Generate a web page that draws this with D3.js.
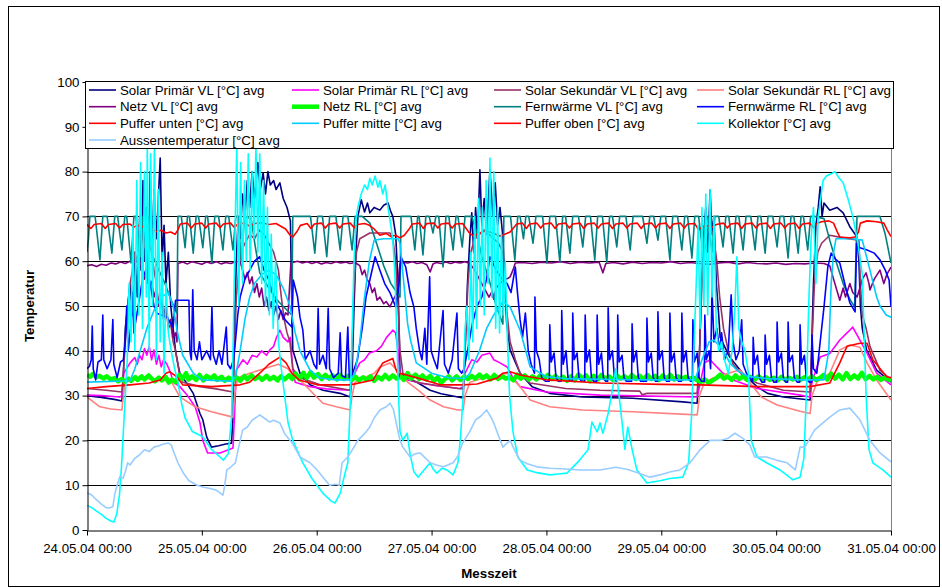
<!DOCTYPE html>
<html>
<head>
<meta charset="utf-8">
<script src="https://cdn.jsdelivr.net/npm/d3@7"></script>
<style>
  body { margin: 0; background: #fff; }
  text { font-family: "Liberation Sans", Arial, sans-serif; }
</style>
</head>
<body>
<script>
// hours since 24.05.04 00:00 -> value [°C]
const solarPrimaerVL = [[0,30],[3,29.6],[6,29.1],[7.3,28.8],[7.6,35],[8,45],[8.5,50],[9,55],[9.5,48],[10,62],[10.5,52],[11,70],[11.3,58],[11.7,78],[12,60],[12.4,72],[12.8,55],[13.2,80],[13.6,62],[14,76],[14.5,65],[15.3,83],[15.7,60],[16.1,68],[16.5,55],[17,62],[17.5,50],[18,45],[18.5,40],[19,37],[19.4,35],[21,32.5],[22.2,30.5],[23.6,26],[24.2,24.6],[25,20.8],[26,18.5],[27.5,18.8],[29,19.2],[30.2,19.4],[30.5,25],[30.8,45],[31.2,60],[31.6,70],[32,65],[32.5,75],[33,70],[33.5,78],[34,72],[34.5,80],[35,74],[35.7,82],[36.2,76],[36.8,79.7],[37.3,75],[37.8,80],[38.3,77],[39,78],[39.5,76],[40.3,77.5],[41,74],[41.8,72],[42.5,69],[42.8,50],[43,40.2],[44.5,35],[46.6,32.4],[49.3,31.2],[52.9,30.5],[55,29.7],[55.4,35],[55.8,50],[56.2,62],[56.6,70],[57.3,73.7],[58,71],[58.6,73],[59.1,70.8],[60,72],[61.2,71.4],[62,72.5],[62.9,73],[63.5,71],[63.9,70],[64.5,66],[65,55],[65.4,35],[67,34],[69.2,32.8],[71.7,31.2],[74,30.4],[77.5,29.7],[78.6,29.5],[79,40],[79.5,55],[80,65],[80.4,70.8],[80.8,62],[81.2,72],[81.6,65],[82.1,80.4],[82.5,68],[83,74],[83.5,66],[84.2,80.4],[84.8,70],[85.3,77.5],[85.8,68],[86.3,72],[86.9,65.4],[87.3,55],[87.7,46],[88.4,40.2],[90.5,35],[93,32],[96.7,30.5],[103.5,29.7],[114,29.4],[124.5,28.6],[127.5,28.3],[128,40],[128.4,55],[128.8,65],[129.3,72],[129.7,62],[130.2,75.9],[130.6,66],[131,70],[131.5,55],[132,48],[132.3,43],[134.3,38.6],[137,35],[140,32],[142.2,30.5],[145.5,29.7],[151.1,29],[151.4,40],[151.8,55],[152.3,68],[152.8,72],[153.2,76.6],[153.6,70],[154,73],[155.2,71.4],[156.7,72],[158,70.8],[159.4,67.7],[160.9,65.4],[161.3,60],[161.6,50],[162,45],[162.9,40.2],[165,35.7],[168,33]];

const solarPrimaerRL = [[0,30.1],[3,30],[6.9,29.7],[7.3,30],[7.7,35],[9,37.3],[10,38.5],[10.5,37],[11,39],[11.5,38],[12,40.5],[12.5,39],[13,41],[13.5,38],[14,40.2],[14.5,37],[15,39],[15.5,36.4],[16,38],[16.7,37],[17.5,35],[18,33],[19.4,32],[21,30],[22.6,27.5],[23.6,24],[24.2,20],[25.2,17.2],[27.8,17.2],[30.5,18.3],[30.8,25],[31.2,35.7],[32.6,38],[33.5,37],[34.5,39],[35.5,38.6],[36.5,40],[37.5,39],[38.2,40.2],[39,41],[39.6,43],[40.3,44.6],[41,43],[42,42],[42.5,43],[43,36],[43.5,33],[44,32.8],[46.6,32],[50,31.5],[55,31.2],[55.5,34],[57,37.3],[58,38],[59,39.5],[60.5,40],[61.5,41],[62.6,43],[63.9,44.6],[64.5,44],[65,40],[65.4,34],[67,33.5],[69.6,32.8],[73,32.2],[77.9,31.6],[78.6,32],[79,35],[80.4,38],[81.5,37.5],[82.5,39],[84.2,39.5],[85,38],[86.3,37.3],[87.8,36.4],[89,34],[90.5,32],[96,30.8],[107.2,30.1],[127.5,29.7],[128.2,33],[129,37.3],[130.2,38],[131.6,36.4],[132.9,35],[135,33.5],[140,31.6],[149,30.1],[151.1,29.7],[151.5,33],[153.2,38.6],[155.2,39.4],[157.3,42.4],[159.4,44.6],[160,45.3],[161.5,42.4],[163,39.5],[165,35],[168,32.4]];

const solarSekundaerVL = [[0,31.6],[4,31.2],[7.3,30.8],[7.6,35],[8,42],[8.5,50],[9,55],[9.5,58],[10,62],[10.5,60],[11,64],[11.5,66],[12,63],[12.5,67],[13,64],[13.5,62],[14,58],[14.5,55],[15,50],[15.5,52],[16,47],[16.5,50],[17,45],[17.5,46],[18,42],[18.5,40],[19,37],[19.4,34],[20,33],[23.6,32],[27,31.5],[30.5,30.8],[30.8,40],[31.2,52],[31.7,58],[32.2,62],[33,64],[34,66],[35,65],[36,67],[37,66],[38,64],[39,62],[40,58],[40.6,52],[41.2,47],[41.8,44],[42.4,42],[43,36],[44.5,34],[48.7,32.4],[55,31.2],[55.4,40],[55.8,55],[56.3,62],[57,65],[59.1,66.3],[63.3,66.3],[63.9,65],[64.5,60],[65,50],[65.4,40],[66,35],[67.5,33.5],[69.6,32.8],[77.5,31.6],[78.6,31.5],[79,40],[79.6,55],[80.2,62],[81,65],[82,66],[83,67],[84,66],[85,65],[86,64],[86.9,62],[87.3,55],[87.8,48],[88.4,42],[89.5,38],[90.5,35],[92.6,32.8],[100,31.6],[107.2,31.2],[115.5,31],[116,30.2],[117,30.5],[127.5,30.5],[128,40],[128.5,55],[129,62],[129.5,66],[130.2,68],[131,65],[131.6,60],[132.2,52],[133,45],[134,40],[135,37],[137,34.5],[140,32.8],[145.5,31.2],[151.1,30.8],[151.5,42],[152,55],[152.7,62],[153.5,64],[155.2,65.8],[158,65.2],[161.3,64.7],[161.6,55],[162,48],[162.8,45],[163.6,41],[165.7,35.7],[168,33.5]];

const solarSekundaerRL = [[0,29.7],[2.7,27.5],[5,27],[7.3,26.8],[7.6,30],[8,33],[10,33.5],[12,34],[14,33.5],[16,33.5],[17.8,32.8],[19.4,29.7],[22.6,27.5],[26,26.4],[30.5,25.2],[30.8,30],[31.5,34],[34,35],[37,36],[40,37],[42,36],[43,34.5],[44.5,33.5],[46.6,31.2],[49.3,28.3],[52.1,27.5],[55,26.8],[55.4,30],[56,33],[58,34],[60,35],[61.2,36.4],[63.3,37.3],[64.5,36],[65.4,35],[67,33],[69.2,31.2],[71.7,29],[74.5,27.5],[77.5,26.8],[78.6,26.8],[79,30],[80,33],[83,34],[86,34.5],[87.8,35],[90.5,32],[92.6,29],[96.7,27.5],[103.5,26.8],[114,26.4],[127.5,25.7],[128,30],[129,33],[131,34],[134,35],[136.4,35.7],[140.9,29.7],[144.2,27.9],[149,26.5],[151.1,26],[151.5,30],[152.5,33],[155.2,35],[157.3,40.2],[159.4,41.3],[161.5,40.8],[163,37.3],[165,33.5],[168,29]];

const netzVL = [[0,59],[1,59.2],[2,58.8],[3,59.3],[4,59.1],[5,59.6],[6,59.4],[7,59.8],[8,59.5],[9,60],[10,59.7],[11,60.2],[11.5,58],[12,56],[12.5,57.5],[13,54],[13.5,55.5],[14,52],[14.5,54],[15,50],[15.5,52],[16,48],[16.5,50],[17,46],[17.5,47],[18,43],[18.5,44],[18.8,42],[19,59.5],[20,59.8],[21,59.4],[22,59.9],[23,59.6],[24,59.3],[25,59.8],[26,59.5],[27,59.9],[28,59.4],[29,59.7],[30,59.5],[31,59.8],[32,60],[32.5,58],[33,56],[33.5,57.5],[34,55],[34.5,56.5],[35,53],[35.5,55],[36,52],[36.5,54],[37,50],[37.5,52],[38,49],[38.5,51],[39,48],[39.5,50],[40,47],[40.5,49],[41,47],[41.5,48.5],[42,48],[42.6,59.6],[44,60],[45,59.6],[46,59.9],[47,59.5],[48,59.8],[49,59.4],[50,59.7],[51,59.5],[52,59.9],[53,59.6],[54,59.8],[55,59.5],[56,59.7],[57,59],[57.5,57],[58,58],[58.5,56],[59.1,55],[59.6,53],[60.1,54],[60.6,51.3],[61.2,52],[62,50.5],[62.5,51],[63.3,49.8],[63.8,51],[64.3,52],[64.8,53],[65.4,59.5],[66,59.8],[67,59.6],[68,59.9],[69,59.5],[70,59.7],[71,59.2],[71.7,57.6],[72.3,59.4],[73,59.7],[74,59.5],[75,59.8],[76,59.5],[77,59.8],[78,59.6],[79,59.9],[80,59.5],[81,58],[82,56],[83,54],[84,52],[84.5,53],[85,51.5],[85.5,54],[86.3,55],[87,55.8],[88,56.2],[88.4,56.5],[89,58],[89.5,59.6],[91,59.7],[93,59.5],[95,59.8],[97,59.6],[99,59.9],[101,59.5],[103,59.8],[105,59.6],[107,59.8],[107.8,57.4],[108.4,59.5],[110,59.7],[112,59.4],[114,59.8],[116,59.5],[118,59.7],[120,59.6],[122,59.9],[124,59.5],[126,59.7],[128,59.5],[130,59.3],[132,59.6],[134,59.8],[136,59.4],[138,59.7],[140,59.5],[142,59.4],[144,59.6],[146,59.3],[148,59.5],[150,59.4],[152,59.6],[154,59.5],[155.2,59],[156,56],[157.3,51.3],[158,54],[158.5,52],[159.4,55],[160,53],[160.9,52],[161.5,54],[162,56],[162.8,57.4],[163.4,55],[163.6,53.6],[164.5,56],[165.7,58],[166.5,55],[167.1,57],[168,58.7]];

const netzRL = [[0,34.6],[0.7,34.2],[1.2,34.8],[2,34.1],[2.6,34.4],[3.5,33.8],[4.1,34.3],[5,33.6],[5.8,33.9],[6.5,33.2],[7.3,33.7],[7.9,33.1],[8.6,33.8],[9.2,33.3],[10.1,34.1],[10.6,33.5],[11.4,34.3],[12,33.6],[12.9,34.5],[13.4,33.9],[14.2,33.2],[15,34],[15.6,33.4],[16.5,34.1],[17.1,32.9],[17.8,33.6],[18.5,33],[19.3,34.6],[19.9,33.7],[20.7,35],[21.2,33.6],[22,34.3],[22.8,33.5],[23.5,34.6],[24.3,33.4],[25,34.4],[25.9,33.8],[26.6,34.5],[27.2,33.5],[28.1,34.2],[28.8,33.3],[29.6,34],[30.4,33.4],[31.2,34.1],[32,33.3],[32.9,34.4],[33.5,33.6],[34.4,34.5],[35.1,33.7],[35.8,34.3],[36.6,33.5],[37.5,34.4],[38.2,33.6],[39,34.2],[39.8,33.4],[40.5,34.3],[41.3,33.6],[42.2,34.5],[42.9,33.7],[43.6,34.9],[44.4,33.6],[45.2,35.1],[45.9,33.9],[46.7,35.2],[47.4,34],[48.3,34.8],[49,33.7],[49.8,34.6],[50.6,33.8],[51.3,34.5],[52.2,33.6],[52.9,34.6],[53.7,33.7],[54.5,34.4],[55.3,33.5],[56.1,34.2],[56.8,33.4],[57.7,34.1],[58.4,33.5],[59.2,34.3],[60,33.3],[60.8,34.2],[61.6,33.6],[62.3,34.6],[63.1,33.7],[63.9,34.5],[64.7,33.8],[65.5,34.3],[66.2,33.5],[67,35],[67.7,33.8],[68.6,34.7],[69.4,33.7],[70.1,34.5],[70.9,33.6],[71.7,34.4],[72.5,33.3],[73.3,34.1],[74,32.8],[74.8,33.7],[75.6,34.3],[76.3,33.4],[77.2,34.3],[78,33.5],[78.8,34.2],[79.6,33.7],[80.4,34.4],[81.1,33.8],[82,34.7],[82.7,33.9],[83.5,34.5],[84.3,33.6],[85.1,34.6],[85.9,33.7],[86.7,34.4],[87.5,33.8],[88.3,34.1],[89.1,33.4],[89.9,34.7],[90.6,33.8],[91.5,34.5],[92.3,33.6],[93.1,34.3],[93.9,33.6],[94.7,34.5],[95.5,33.8],[96.3,34.6],[97.1,33.7],[97.9,34.4],[98.7,33.5],[99.5,34.2],[100.3,33.3],[101.1,34.3],[101.9,33.4],[102.7,34.7],[103.5,33.8],[104.3,34.5],[105.1,33.2],[105.9,34.4],[106.7,33.6],[107.5,34.6],[108.3,33.7],[109.1,34.3],[109.9,33.5],[110.7,34.5],[111.5,33.8],[112.3,34.3],[113.1,33.6],[113.9,34.6],[114.7,33.7],[115.5,34.4],[116.3,33.5],[117.1,34.6],[117.9,33.7],[118.7,34.4],[119.5,33.5],[120.3,34.5],[121.1,33.8],[121.9,34.6],[122.7,33.6],[123.5,34.3],[124.3,33.7],[125.1,34.2],[125.9,33.8],[126.7,34],[127.5,33.4],[128.3,33.1],[129.1,33.6],[129.9,32.8],[130.7,33.4],[131.5,33.9],[132.3,34.7],[133.1,33.8],[133.9,34.3],[134.7,33.5],[135.5,34.5],[136.3,33.7],[137.1,34.3],[137.9,33.5],[138.7,34.2],[139.5,33.6],[140.3,34.3],[141.1,33.6],[141.9,34.1],[142.7,33.5],[143.5,34],[144.3,33.4],[145.1,34.2],[145.9,33.5],[146.7,34],[147.5,33.6],[148.3,34.2],[149.1,33.5],[149.9,34.1],[150.7,33.6],[151.5,34.3],[152.3,33.5],[153.1,33.9],[153.9,34.6],[154.7,33.6],[155.5,34.9],[156.3,33.8],[157.1,34.7],[157.9,33.6],[158.7,35],[159.5,33.7],[160.3,34.5],[161.1,33.8],[161.9,35.1],[162.7,33.7],[163.5,34.4],[164.3,33.6],[165.1,34.2],[165.9,33.5],[166.7,34],[167.5,33.5],[168,33.7]];

const fernwaermeVL = [[0,62],[0.3,65],[0.6,70],[1.7,70],[2.7,60.3],[3.3,70],[4.2,70],[5.2,61.8],[5.8,70],[6.4,70],[7.3,62.5],[7.9,70],[8.3,70],[9.2,59.6],[9.8,70],[10.2,70],[11.1,61],[11.7,70],[12.8,70],[13.8,61],[15,58],[16.3,55],[17.5,51.5],[18.8,48.4],[19,70],[19.7,70],[20.5,63],[21,70],[21.4,70],[22.2,61.8],[22.8,70],[23.3,70],[24.2,63],[24.8,70],[25.2,70],[26.1,59.6],[26.7,70],[27.5,70],[28.4,62.5],[29,70],[29.6,70],[30.5,62.5],[31.1,70],[31.5,70],[32.3,60],[32.9,70],[34.3,69.5],[35.2,63],[36.1,57.4],[38,54],[40,51],[42.8,48],[43,70],[46.7,70],[47.6,61.8],[48.2,70],[49.2,70],[50.1,61],[50.7,70],[52,70],[52.9,62.5],[53.5,70],[54.5,70],[55.4,62.5],[56,70],[57.5,70],[59.1,68.5],[60.5,64],[62,59],[63.5,55],[65.4,52],[65.6,70],[67.7,70],[68.5,62.5],[69.1,70],[69.4,70],[70.2,61.4],[70.8,70],[71.5,70],[72.3,66.3],[72.9,70],[73.5,70],[74.4,58.7],[75,70],[75.6,70],[76.5,62.5],[77.1,70],[77.5,70],[78.4,63.2],[79,70],[80.4,70],[81.5,66],[82.5,61],[84,56],[85.5,50],[86.9,46],[87.1,70],[88.5,70],[89.4,60.3],[90,70],[90.5,70],[91.2,65],[91.7,70],[92.3,70],[93.2,64],[93.8,70],[95.2,70],[96.1,59.6],[96.7,70],[97.9,70],[98.8,59.8],[99.4,70],[100,70],[100.9,61.8],[101.5,70],[102.7,70],[103.6,63.2],[104.2,70],[105.2,70],[106.1,60.3],[106.7,70],[107.7,70],[108.6,59.8],[109.2,70],[109.8,70],[110.7,63.2],[111.3,70],[112.6,70],[113.5,62.5],[114.1,70],[116.1,70],[117,64],[117.6,70],[118.4,70],[119.3,64.7],[119.9,70],[120.9,70],[121.8,60.3],[122.4,70],[123.4,70],[124.3,62.5],[124.9,70],[125.5,70],[126.4,60.7],[127,70],[127.8,70],[128.7,61.8],[129.3,70],[129.7,70],[130.6,62],[131.2,70],[132,70],[132.9,63.2],[133.5,70],[134.1,70],[135,61.8],[135.6,70],[136.2,70],[137.1,62.5],[137.7,70],[138.7,70],[139.6,62.5],[140.2,70],[140.8,70],[141.7,61.8],[142.3,70],[143.3,70],[144.2,63.2],[144.8,70],[145.6,70],[146.5,60.7],[147.1,70],[147.7,70],[148.6,61.8],[149.2,70],[149.7,70],[150.6,62.5],[151.2,70],[152,70],[154,69.5],[155.2,64.7],[156.5,60],[158,55],[159.4,51.5],[160.4,49.8],[160.9,70],[165.7,70],[166.8,66],[168,59.6]];

const fernwaermeRL = [[0,36],[0.5,36.5],[0.9,38],[1.1,45.5],[1.3,36],[1.8,33.5],[2.3,37.5],[3,38],[3.3,48],[3.5,38],[4.2,36],[5,38],[5.4,47],[5.6,37],[6.3,34],[7,37.5],[7.6,38],[8,42],[8.3,50],[8.6,40],[9.2,46],[9.5,53],[9.8,44],[10.4,48],[11,52],[11.6,56],[12.5,58.7],[13.2,55],[14,50],[14.6,48.4],[15.5,48],[16.7,47.5],[18,45.3],[18.5,51.3],[21.3,51.3],[21.5,40],[21.8,38],[22.1,53.6],[22.4,40],[23,38],[23.5,42],[24,38],[25,40],[25.8,38],[26.1,49.8],[26.4,39],[27,37],[27.6,40],[28.2,37],[29.1,45.3],[29.4,37],[30,36],[30.6,38],[31,42],[31.5,48],[32,52],[33,56],[34,58],[35,60],[36.1,61],[37,58],[38,55.8],[39,52],[40,49.8],[41.4,46.9],[42.8,45.3],[43.1,55.8],[44,52],[44.5,47.5],[45.1,44.6],[45.6,38],[46.6,40],[47.4,37],[48,36],[48.3,49.5],[48.6,37],[49.3,39],[50,36],[50.4,49.5],[50.7,36],[51.5,34],[52.5,35],[52.9,44],[53.2,34.5],[54,34],[54.5,45.3],[54.8,34],[55.5,35],[56.5,38],[57.5,45],[58.3,52],[59.1,55.8],[60.2,61],[61.2,58],[62.2,55],[63.3,53],[64.5,49.8],[65.2,55],[65.6,61],[66.6,58.7],[67.5,53],[68.3,49.8],[68.8,45],[69.5,40],[70,38],[70.6,45],[71,37],[71.6,56.5],[71.9,40],[72.5,38],[73.2,36],[74.4,49],[74.7,37],[75.5,35],[76.3,38],[77.3,48.4],[77.6,36],[78.3,35],[78.8,36],[79.5,40],[80.5,46],[81.5,50],[82.5,52],[83.5,56],[84.2,61],[85.5,58],[86.9,55.8],[87.8,55],[88.6,53],[89.5,58.7],[89.9,53.6],[90.5,46.9],[91,43],[91.6,48.4],[92.2,40],[92.8,37],[93.5,35],[93.6,52],[93.9,40],[94.5,38],[95,34],[95.8,33.2],
  [96.6,33.2],[96.7,45.8],[97,37.5],[97.6,39.5],[98,34],[98.5,33.2],[99.1,33.2],[99.2,49],[99.5,37],[100.1,40],[100.5,34],[101,33.2],[101.4,33.2],[101.5,48.4],[101.8,38],[102.4,39.5],[102.8,34],[103.3,33.2],[104,33.2],[104.1,48],[104.4,37.5],[105,40.2],[105.4,34],[105.9,33.2],[106.5,33.2],[106.6,48],[106.9,37],[107.5,39.5],[107.9,34],[108.4,33.2],[108.8,33.2],[108.9,49.6],[109.2,38],[109.8,40],[110.2,34],[110.6,33.2],[110.8,33.2],[110.9,48],[111.2,37.5],[111.8,39],[112.2,34],[112.7,33.2],[113.8,33.2],[113.9,46],[114.2,37.5],[114.8,40],[115.2,34],[115.7,33.2],[116.9,33.2],[117,47.3],[117.3,37.5],[117.9,39.5],[118.3,34],[118.8,33.2],[119.2,33.2],[119.3,48.7],[119.6,38],[120.2,40],[120.6,34],[121.1,33.2],[121.7,33.2],[121.8,48.4],[122.1,37.5],[122.7,39.5],[123.1,34],[123.6,33.2],[124.2,33.2],[124.3,48.4],[124.6,37.5],[125.2,40],[125.6,34],[126.1,33.2],[126.5,33.2],[126.6,46.9],[126.9,37.5],[127.5,39.5],[127.9,34],[128.4,33.2],[129,33.2],[129.1,48],[129.4,38],[130,40],[130.3,36],
  [130.6,53.6],[131,42],[131.6,45],[132.2,40],[132.6,44],[133.2,38],[134,40],[134.6,52.5],[135,42],[135.6,38],[136.3,40],[136.8,46.9],[137.1,37],[137.8,35],[138.5,34],[139.1,33.2],[139.2,43],[139.5,37],[140.1,39],[140.5,34],[141,33],[141.6,33],[141.7,43.5],[142,37],[142.6,39],[143,34],[143.5,33],[144.1,33],[144.2,46.4],[144.5,37.5],[145.1,39.5],[145.5,34],[146,33],[146.4,33],[146.5,46.4],[146.8,37.5],[147.4,39],[147.8,34],[148.4,33],[148.9,33],[149,45.8],[149.3,37],[149.9,39],[150.3,34],[150.9,33],[151.4,33],[151.5,43.5],[151.8,36],[152.5,35],[153.2,42],[154,49.8],[154.8,58.7],[155.5,61.8],[156.4,60.5],[157.3,59.6],[158.5,54.3],[159.4,50.7],[160.5,48.7],[160.8,64],[161.5,63],[163,62.5],[164.5,61.8],[165.7,60.3],[166.8,58],[167.6,55.8],[168,49.8]];

const pufferUnten = [[0,31.6],[4,32],[9,32.4],[13,32.8],[15.3,33.5],[16.5,35],[17.3,35.3],[18.8,34.2],[20,32.4],[26,32],[32,32.4],[34,33],[36.1,35],[38,37],[40.3,38.6],[41.6,37.3],[42.8,35],[44.3,33.5],[48.1,32.4],[55,32.4],[59.8,33.5],[61.8,37.3],[63.9,38.3],[64.5,36],[65.2,34.2],[65.4,35],[69.2,33.9],[73.8,32.4],[78.6,32.4],[81.5,32.6],[85.7,33.9],[86.9,35],[88.4,35.3],[90.5,34.6],[96.2,33.5],[107.2,32.8],[120,32.5],[128.1,32.4],[140,32],[151.1,32],[155.2,32.8],[157.3,37.3],[158.8,41],[161.5,41.7],[163,41.7],[164.2,38],[167.1,34.2],[168,34]];

const pufferMitte = [[0,33],[6,33.2],[9,33.3],[10,36],[12.5,45],[14,49],[15.5,52],[17,53],[18,50],[18.8,44.6],[20,39],[22.2,35],[24,33.5],[30,33.2],[31,34],[32,40],[33,47],[34,52],[35,55],[36.5,57],[38,58],[39.5,57],[41,54],[42.4,50],[43.5,44],[44.5,40],[46.6,35.7],[48.5,34],[52,33.5],[55,33.5],[56,35],[57,42],[58,52],[59,60],[60,64.7],[62,65],[65,65],[65.4,64],[66.3,54],[67,46],[67.6,42.4],[68.8,37.3],[72,35],[75.5,34],[79,33.8],[80,35],[82,40],[83.5,45],[85,48],[86.9,51],[88.4,49.8],[90.5,44.6],[92.6,36.4],[96,34.2],[100,33.8],[110,33.6],[120,33.5],[127,33.5],[128.5,38],[130,42],[131,42.4],[133,40],[134.3,37.3],[136,35.5],[138,34.3],[142,33.8],[150,33.5],[154,33.5],[155,40],[155.5,55],[156,62],[156.5,65],[158,65],[160,65],[162,64.7],[163.6,58],[165,52],[165.7,50],[167,48],[168,47.5]];

const pufferOben = [[0,68.2],[0.8,67.3],[1.5,68.2],[3,68.4],[3.8,67.3],[4.5,68.2],[6,68.4],[6.8,67.4],[7.5,68.2],[9,68.3],[9.8,67.6],[10.5,68],[11.5,67.8],[12.5,67],[13.5,67.2],[14.5,66.6],[15.5,66.9],[16.5,66.3],[17.5,66.5],[18.4,66],[19,67],[19.5,68.3],[21,68.5],[21.8,67.4],[22.5,68.3],[24,68.5],[24.8,67.4],[25.5,68.3],[27,68.5],[27.8,67.5],[28.5,68.3],[30,68.5],[30.8,67.5],[31.5,68.3],[33,68.5],[34,67.8],[35,68.4],[36.5,68.6],[38,68.2],[39.5,68.4],[40.5,67.8],[41.5,67.2],[42.3,66],[43,65.4],[43.8,66.5],[44.6,68],[46,68.4],[46.8,67.3],[47.5,68.3],[49,68.5],[49.8,67.4],[50.5,68.3],[52,68.5],[52.8,67.4],[53.5,68.3],[55,68.5],[55.8,67.5],[56.5,68.2],[58,68.4],[59,68],[60,67.2],[61.2,65.8],[62.5,66.2],[63.5,65.5],[64.5,65.8],[65.4,65.2],[66.3,65.8],[67.2,67],[68,68.3],[69.5,68.5],[70.3,67.3],[71,68.4],[72.5,68.5],[73.3,67.4],[74,68.3],[75.5,68.5],[76.3,67.4],[77,68.3],[78.5,68.4],[79.3,67.2],[80,66.2],[80.8,65.6],[82,66.3],[83.5,66.8],[85,66.2],[86.3,65.6],[87.3,66],[88.4,66.5],[89.2,67.5],[89.8,68.3],[91,68.5],[91.8,67.3],[92.5,68.3],[94,68.5],[94.8,67.4],[95.5,68.3],[97,68.5],[97.8,67.3],[98.5,68.3],[100,68.5],[100.8,67.4],[101.5,68.3],[103,68.5],[103.8,67.3],[104.5,68.3],[106,68.5],[106.8,67.4],[107.5,68.3],[109,68.5],[109.8,67.3],[110.5,68.3],[112,68.5],[112.8,67.4],[113.5,68.3],[115,68.5],[115.8,67.3],[116.5,68.3],[118,68.5],[118.8,67.4],[119.5,68.3],[121,68.5],[121.8,67.3],[122.5,68.3],[124,68.5],[124.8,67.4],[125.5,68.3],[127,68.4],[127.8,67],[128.5,67.6],[129.5,68],[130.5,67.5],[131.5,68.2],[133,68.5],[133.8,67.4],[134.5,68.3],[136,68.5],[136.8,67.3],[137.5,68.3],[139,68.5],[139.8,67.4],[140.5,68.3],[142,68.5],[142.8,67.3],[143.5,68.3],[145,68.5],[145.8,67.4],[146.5,68.3],[148,68.5],[148.8,67.3],[149.5,68.3],[151,68.5],[151.8,67.5],[152.5,68.4],[153.5,68.8],[155,69],[156,68.5],[156.8,66.5],[157.3,65.4],[158.5,65.3],[159.4,65.2],[160.5,65.4],[161.2,66.5],[161.6,68.5],[163,69],[165,68.8],[166.5,68.5],[167.2,67],[168,65.5]];

const kollektor = [[0,5.5],[1,5],[2,4.2],[3,3.5],[4,2.6],[5,2],[5.6,1.8],[6.2,3.5],[6.8,8],[7.2,14],[7.6,22],[8,30],[8.4,38],[8.8,55],[9.2,42],[9.6,68],[10,40],[10.4,78],[10.8,48],[11.2,82],[11.6,45],[12,80],[12.4,52],[12.6,86],[13,40],[13.3,84],[13.7,50],[14.1,87],[14.5,38],[14.9,76],[15.3,42],[15.7,62],[16.1,35],[16.5,55],[17,44],[17.6,40],[18.3,36],[19,33],[19.8,28],[20.5,25],[22,22],[24.2,20.8],[26,18],[27.8,16.3],[28.5,15.6],[29.5,17],[30.2,25],[30.6,45],[31,70],[31.3,86],[31.7,50],[32.1,82],[32.5,55],[32.9,78],[33.3,60],[33.7,84],[34.1,58],[34.5,80],[34.9,65],[35.3,86],[35.7,62],[36.1,84],[36.5,55],[36.9,78],[37.3,50],[37.7,72],[38.1,48],[38.5,66],[38.9,45],[39.4,60],[40,42],[40.6,36],[41.3,30],[42,24],[43,20],[45.1,15],[47,11.5],[49.3,8.2],[51,6.5],[51.8,6],[52.9,8.2],[54,13],[54.5,15],[55,28],[55.4,44],[55.8,60],[56.3,70],[56.6,72],[57.3,75],[58,77],[58.6,76],[59.1,78.5],[59.6,77],[60.2,79],[60.8,76.5],[61.2,78],[61.8,75],[62.3,77],[62.9,72],[63.5,68],[63.9,64.7],[64.3,58],[64.7,45],[65.1,30],[65.4,22],[66,20],[66.9,21.6],[67.5,17],[68.3,13],[69.2,11.8],[70.5,13.5],[71.7,15],[72.4,13.5],[73.1,12.7],[74.2,13.8],[75.2,13.4],[76.5,12.3],[77.5,15],[78,20],[78.6,30],[79,45],[79.4,50],[79.8,38],[80.2,62],[80.6,42],[81,70],[81.4,45],[81.8,74],[82.2,50],[82.6,72],[83,48],[83.4,78],[83.8,55],[84.2,83],[84.6,52],[85,80],[85.4,45],[85.8,72],[86.2,44],[86.6,66],[87,48],[87.4,60],[87.8,44],[88.3,30],[89,22],[90,16.3],[92,13.4],[94,12.8],[96.7,12.3],[98.5,12.5],[100.3,12.7],[102.6,15.2],[104.7,17.9],[105.5,24.1],[106.6,21.9],[107.2,23.9],[107.8,21.6],[108.9,26],[109.9,32],[110.5,36],[111.4,28],[112.4,18],[113,23],[113.9,18],[114.9,13.4],[117,10.5],[119.7,11],[121.8,11.5],[124.5,11.8],[125.7,15],[126.3,25],[126.8,40],[127.3,55],[127.7,68],[128.1,45],[128.5,72],[128.9,50],[129.3,75],[129.7,48],[130.2,76],[130.6,52],[131,70],[131.5,45],[132,40],[132.6,42],[133.2,38],[134,35],[134.8,40],[135.4,50],[135.8,61],[136.2,45],[136.8,42],[137.5,40],[138.2,35],[138.8,20],[140,16.3],[142,15],[144.8,13.4],[147.5,11.2],[149,11.8],[149.8,16],[150.3,30],[150.8,50],[151.3,65],[151.8,72],[152.3,55],[152.8,70],[153.3,74],[153.8,78],[154.5,79],[155.5,79.5],[156.3,80],[157.2,78.5],[158,77.5],[159,74],[160,70],[161,64.7],[162,57],[162.5,40],[162.8,30],[163.4,18],[164.2,15],[166.3,13.4],[168,11.8]];

const aussentemperatur = [[0,8.3],[1,7.8],[2,6.7],[3,5.8],[4,5],[4.6,4.9],[5.4,5.2],[5.8,8],[6.3,10],[6.9,12],[7.5,11.5],[8,13],[8.5,15],[9,14.5],[10,16],[11,16.8],[12,17.9],[13,17.5],[14,18.5],[15,18.8],[16,19.2],[17,19.4],[17.6,19],[18.2,17.2],[19,15],[20.2,12.6],[21.3,11],[22.2,10.5],[23,10],[24.2,9.6],[25.5,9.3],[27,8.9],[28.4,7.8],[28.8,10],[29.2,13.4],[30,14],[31,15],[31.6,18],[32.5,22.3],[33.5,23],[34.5,24.5],[36.1,25.7],[37,25],[38.2,24.1],[39,24.5],[40.3,23.9],[41.3,21.5],[42.9,19.4],[44.5,16.3],[46.6,15],[48,13.5],[49.3,11.8],[50.7,10],[52,10.2],[52.7,10],[53.3,15],[54.5,16.3],[55.5,18],[56.6,20],[58,21.5],[59.1,23],[60,25],[61.2,26.8],[62.5,27.5],[63.3,28.3],[64,27],[64.8,23],[65.4,20],[66,18.5],[67.5,16.3],[68.5,17],[69.6,17.2],[71.7,15],[73,14.5],[74.5,14.1],[76.5,15],[77.5,16.5],[78.5,19.4],[80,22],[81.2,24.6],[82.4,25.5],[83.5,26.8],[84.5,25],[85,23.9],[86,21],[86.9,18.5],[88.4,20],[89.5,17.5],[90.5,15.6],[92,14.8],[94,14.1],[96.7,13.8],[100,13.6],[103,13.4],[107.2,13.4],[110.5,14],[113,13.5],[115.5,12.6],[117.6,11.8],[119.7,12.3],[122,13],[123.9,13.4],[126,15],[128.1,17.9],[130.2,20],[132.3,20],[134,20.5],[135.4,21.6],[137,20.5],[138.5,19],[139.5,16.3],[142,16.3],[144,15.6],[146.3,15],[148,13.4],[149,18.5],[150,18.5],[152,22.3],[155.2,25.2],[157.3,26.8],[159.4,27.2],[161.5,24.6],[163.6,20],[165.7,17.2],[168,15.2]];

const seriesNames = ["Solar Primär VL [°C] avg", "Solar Primär RL [°C] avg", "Solar Sekundär VL [°C] avg", "Solar Sekundär RL [°C] avg",
  "Netz VL [°C] avg", "Netz RL [°C] avg", "Fernwärme VL [°C] avg", "Fernwärme RL [°C] avg",
  "Puffer unten [°C] avg", "Puffer mitte [°C] avg", "Puffer oben [°C] avg", "Kollektor [°C] avg",
  "Aussentemperatur [°C] avg"];
const seriesData = [solarPrimaerVL, solarPrimaerRL, solarSekundaerVL, solarSekundaerRL,
  netzVL, netzRL, fernwaermeVL, fernwaermeRL, pufferUnten, pufferMitte, pufferOben, kollektor, aussentemperatur];
const seriesColors = ["#000080", "#FF00FF", "#993366", "#FF8080", "#800080", "#00FF00", "#008080", "#0000FF",
  "#FF0000", "#00CCFF", "#FF0000", "#00FFFF", "#99CCFF"];
const yTicks = [0, 10, 20, 30, 40, 50, 60, 70, 80, 90, 100];

const width = 942, height = 588;
const startTime = new Date(2004, 4, 24, 0, 0);
const endTime = new Date(2004, 4, 31, 0, 0);
const toDate = h => new Date(startTime.getTime() + h * 3600e3);

const svg = d3.select("body").append("svg")
    .attr("width", width)
    .attr("height", height);

svg.append("rect")
    .attr("x", 8.5).attr("y", 6.5)
    .attr("width", 931).attr("height", 580)
    .attr("fill", "#fff").attr("stroke", "#000");

const x = d3.scaleTime().domain([startTime, endTime]).range([87, 891]);
const y = d3.scaleLinear().domain([0, 100]).range([530, 82]);

// gridlines
svg.append("g").selectAll("line")
    .data(yTicks.filter(v => v > 0 && v < 100))
    .join("line")
    .attr("x1", 87).attr("x2", 891)
    .attr("y1", d => Math.round(y(d)) + 0.5).attr("y2", d => Math.round(y(d)) + 0.5)
    .attr("stroke", "#000").attr("stroke-width", 1);

// plot frame (top / right grey)
svg.append("path")
    .attr("d", `M87,82.5H891.5V530`)
    .attr("fill", "none").attr("stroke", "#808080").attr("stroke-width", 1);

svg.append("clipPath").attr("id", "plotclip")
  .append("rect").attr("x", 87).attr("y", 82).attr("width", 804).attr("height", 448);

const line = d3.line()
    .x(d => x(toDate(d[0])))
    .y(d => y(d[1]))
    .curve(d3.curveLinear);

const lines = svg.append("g").attr("clip-path", "url(#plotclip)");
seriesData.forEach((data, i) => {
    lines.append("path")
        .datum(data)
        .attr("d", line)
        .attr("fill", "none")
        .attr("stroke", seriesColors[i])
        .attr("stroke-width", i === 5 ? 4.5 : 1.6)
        .attr("stroke-linejoin", "round");
});

// axes
const xAxis = d3.axisBottom(x)
    .ticks(d3.timeDay.every(1))
    .tickFormat(d3.timeFormat("%d.%m.%y %H:%M"))
    .tickSizeInner(5).tickSizeOuter(0).tickPadding(8);
const yAxis = d3.axisLeft(y)
    .tickValues(yTicks)
    .tickSizeInner(5).tickSizeOuter(0).tickPadding(3);

const gx = svg.append("g").attr("transform", "translate(0,530.5)").call(xAxis);
const gy = svg.append("g").attr("transform", "translate(87.5,0)").call(yAxis);
[gx, gy].forEach(g => {
    g.selectAll("path, line").attr("stroke", "#000");
    g.selectAll("text").attr("fill", "#000").style("font-size", "13.3px")
      .style("font-family", "'Liberation Sans', Arial, sans-serif");
});

svg.append("text")
    .attr("x", 489).attr("y", 578)
    .attr("text-anchor", "middle")
    .style("font-size", "13.3px").style("font-weight", "bold")
    .text("Messzeit");

svg.append("text")
    .attr("transform", "translate(34,306) rotate(-90)")
    .attr("text-anchor", "middle")
    .style("font-size", "13.3px").style("font-weight", "bold")
    .text("Temperatur");

// legend
const legend = svg.append("g");
legend.append("rect")
    .attr("x", 85.5).attr("y", 81.5)
    .attr("width", 808).attr("height", 67)
    .attr("fill", "#fff").attr("stroke", "#000");

const colX = [89, 292, 494, 697];
const rowY = [90, 106.7, 123.3, 140];
seriesNames.forEach((name, i) => {
    const cx = colX[i % 4], cy = rowY[Math.floor(i / 4)];
    legend.append("line")
        .attr("x1", cx).attr("x2", cx + 27)
        .attr("y1", cy).attr("y2", cy)
        .attr("stroke", seriesColors[i])
        .attr("stroke-width", i === 5 ? 4.5 : 1.6);
    legend.append("text")
        .attr("x", cx + 31).attr("y", cy + 4.7)
        .style("font-size", "13.3px")
        .text(name);
});
</script>
</body>
</html>
